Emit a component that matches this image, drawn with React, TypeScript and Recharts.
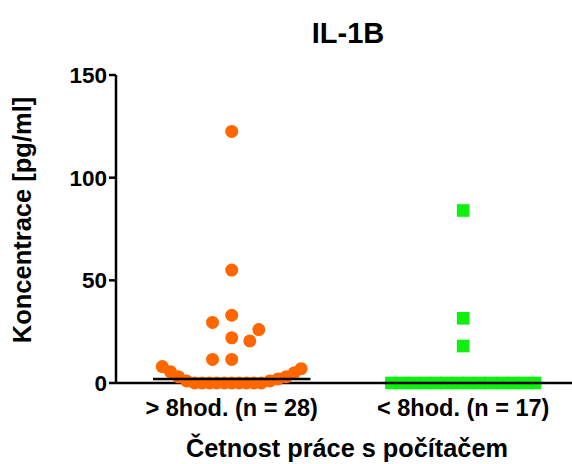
import { ScatterChart, Scatter, XAxis, YAxis, Label } from 'recharts'

// Groups and values
const groupLabels = ['> 8hod. (n = 28)', '< 8hod. (n = 17)']
const yTicks = [0, 50, 100, 150]

const over8Values = [
  122.5, 55, 33, 29.5, 26, 22, 20.5, 11.5, 11.5,
  8, 5.5, 3, 1, 7, 5, 3, 2, 1,
  0, 0, 0, 0, 0, 0, 0, 0, 0, 0,
]
// horizontal scatter offset of each dot inside its column
const over8Jitter = [
  0, 0, 0, -0.083, 0.117, 0, 0.078, -0.083, 0,
  -0.3, -0.265, -0.23, -0.195, 0.3, 0.27, 0.235, 0.2, 0.165,
  -0.16, -0.128, -0.096, -0.064, -0.032, 0, 0.032, 0.064, 0.096, 0.128,
]

const under8Values = [84, 31.5, 18, 0, 0, 0, 0, 0, 0, 0, 0, 0, 0, 0, 0, 0, 0]
const under8Jitter = [
  0, 0, 0,
  -0.31, -0.262, -0.215, -0.167, -0.119, -0.072, -0.024,
  0.024, 0.072, 0.119, 0.167, 0.215, 0.262, 0.31,
]

const medians = [2, 0]

const FONT = '"Liberation Sans", Arial, sans-serif'
const MEDIAN_HALF = 0.34

const over8Data = over8Values.map((y, i) => ({ x: 1 + over8Jitter[i], y }))
const under8Data = under8Values.map((y, i) => ({ x: 2 + under8Jitter[i], y }))
const medianData = medians.map((y, i) => [
  { x: i + 1 - MEDIAN_HALF, y },
  { x: i + 1 + MEDIAN_HALF, y },
])

const OrangeDot = (props: any) => (
  <circle cx={props.cx} cy={props.cy} r={6.5} fill="#ff6600" />
)

const GreenSquare = (props: any) => (
  <rect x={props.cx - 6.3} y={props.cy - 6.3} width={12.6} height={12.6} fill="#10f010" />
)

const XTick = (props: any) => {
  const { x, y, payload } = props
  return (
    <text x={x} y={y} dy={28} textAnchor="middle" fontSize={23.5} fontWeight="bold" fill="#000" fontFamily={FONT}>
      {groupLabels[payload.value - 1]}
    </text>
  )
}

const YTick = (props: any) => {
  const { x, y, payload } = props
  return (
    <text x={x} y={y} dy={8} textAnchor="end" fontSize={22.5} fontWeight="bold" fill="#000" fontFamily={FONT}>
      {payload.value}
    </text>
  )
}

export default function App() {
  return (
    <div style={{ position: 'absolute', left: 0, top: 0, width: 572, height: 464, background: '#fff' }}>
      <div
        style={{
          position: 'absolute',
          left: 0,
          width: 696,
          top: 15,
          textAlign: 'center',
          fontFamily: FONT,
          fontWeight: 'bold',
          fontSize: 29,
          lineHeight: '36px',
        }}
      >
        IL-1B
      </div>
      <ScatterChart width={572} height={464} margin={{ top: 75, right: 0, bottom: 9, left: 0 }}>
        <XAxis
          type="number"
          dataKey="x"
          domain={[0.5, 2.47]}
          ticks={[1, 2]}
          height={72}
          tickSize={3}
          tick={<XTick />}
          axisLine={{ stroke: '#000', strokeWidth: 2.5 }}
          tickLine={{ stroke: '#000', strokeWidth: 2 }}
        >
          <Label
            content={({ viewBox }: any) => (
              <text
                x={viewBox.x + viewBox.width / 2 + 3}
                y={viewBox.y + viewBox.height + 2}
                textAnchor="middle"
                fontSize={25.3}
                fontWeight="bold"
                fontFamily={FONT}
                fill="#000"
              >
                Četnost práce s počítačem
              </text>
            )}
          />
        </XAxis>
        <YAxis
          type="number"
          dataKey="y"
          domain={[0, 150]}
          ticks={yTicks}
          width={116}
          tickSize={7}
          tick={<YTick />}
          axisLine={{ stroke: '#000', strokeWidth: 2.5 }}
          tickLine={{ stroke: '#000', strokeWidth: 2.5 }}
        >
          <Label
            content={() => (
              <text
                x={0}
                y={0}
                transform="translate(31, 220) rotate(-90)"
                textAnchor="middle"
                fontSize={25.5}
                fontWeight="bold"
                fontFamily={FONT}
                fill="#000"
              >
                Koncentrace [pg/ml]
              </text>
            )}
          />
        </YAxis>
        <Scatter data={over8Data} shape={<OrangeDot />} isAnimationActive={false} />
        <Scatter data={under8Data} shape={<GreenSquare />} isAnimationActive={false} />
        {medianData.map((seg, i) => (
          <Scatter
            key={i}
            data={seg}
            line={{ stroke: '#000', strokeWidth: 2.5 }}
            shape={() => <g />}
            isAnimationActive={false}
          />
        ))}
      </ScatterChart>
    </div>
  )
}
